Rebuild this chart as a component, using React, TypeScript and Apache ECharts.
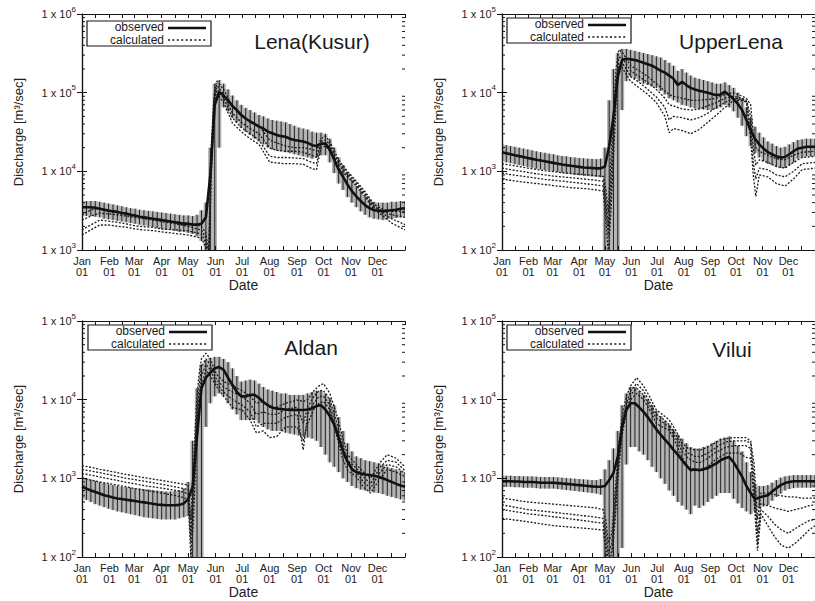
import React, { useEffect, useRef } from 'react';
import * as echarts from 'echarts';

const FONT = '"Liberation Sans", Arial, Helvetica, sans-serif';

// ---------- shared axes ----------
const monthNames = ['Jan', 'Feb', 'Mar', 'Apr', 'May', 'Jun', 'Jul', 'Aug', 'Sep', 'Oct', 'Nov', 'Dec'];
const monthStarts = [0, 31, 59, 90, 120, 151, 181, 212, 243, 273, 304, 334];
const xTickDays = [0, 15, 31, 45, 59, 74, 90, 105, 120, 135, 151, 166, 181, 196, 212, 227, 243, 258, 273, 288, 304, 319, 334, 349, 365];

const obsDays = [0, 5, 10, 15, 20, 25, 30, 35, 40, 45, 50, 55, 60, 65, 70, 75, 80, 85, 90, 95, 100, 105, 110, 115, 120, 125, 130, 135, 140, 145, 150, 155, 160, 165, 170, 175, 180, 185, 190, 195, 200, 205, 210, 215, 220, 225, 230, 235, 240, 245, 250, 255, 260, 265, 270, 275, 280, 285, 290, 295, 300, 305, 310, 315, 320, 325, 330, 335, 340, 345, 350, 355, 360, 365];

const minorTicks3to6 = [2000, 3000, 4000, 5000, 6000, 7000, 8000, 9000, 20000, 30000, 40000, 50000, 60000, 70000, 80000, 90000, 200000, 300000, 400000, 500000, 600000, 700000, 800000, 900000];
const minorTicks2to5 = [200, 300, 400, 500, 600, 700, 800, 900, 2000, 3000, 4000, 5000, 6000, 7000, 8000, 9000, 20000, 30000, 40000, 50000, 60000, 70000, 80000, 90000];

// ---------- Lena(Kusur) ----------
const lenaObs = [3500, 3500, 3500, 3450, 3350, 3250, 3150, 3100, 3050, 2950, 2900, 2800, 2750, 2650, 2600, 2550, 2500, 2450, 2400, 2350, 2300, 2250, 2200, 2150, 2150, 2100, 2100, 2150, 2600, 9000, 70000, 102000, 92000, 80000, 68000, 60000, 52000, 47000, 43000, 40000, 37000, 35000, 32000, 30500, 29000, 28000, 27500, 26000, 25000, 24500, 24000, 23000, 21500, 21000, 22500, 22500, 19000, 14000, 10500, 8500, 6800, 5600, 4800, 4200, 3700, 3400, 3200, 3150, 3100, 3150, 3200, 3250, 3350, 3400];
const lenaLo = [2700, 2700, 2700, 2650, 2600, 2500, 2450, 2400, 2350, 2300, 2250, 2200, 2150, 2100, 2050, 2000, 1950, 1900, 1850, 1800, 1800, 1750, 1700, 1700, 1650, 1600, 1500, 1300, 500, 500, 500, 20000, 65000, 58000, 48000, 42000, 36000, 32000, 29000, 26000, 24000, 22000, 20000, 19000, 18500, 18000, 17500, 17000, 16500, 16000, 15500, 15000, 14500, 15000, 16000, 16000, 13000, 9500, 7000, 5800, 4700, 4000, 3500, 3100, 2800, 2600, 2500, 2450, 2400, 2450, 2500, 2550, 2600, 2650];
const lenaHi = [4200, 4200, 4200, 4200, 4100, 4000, 3900, 3800, 3700, 3600, 3500, 3400, 3350, 3250, 3200, 3150, 3100, 3050, 3000, 2950, 2900, 2850, 2800, 2750, 2750, 2700, 2800, 3200, 4000, 20000, 130000, 145000, 130000, 110000, 92000, 80000, 70000, 64000, 60000, 56000, 52000, 50000, 47000, 45000, 44000, 43000, 42000, 40000, 38000, 36000, 35000, 34000, 32000, 31000, 31000, 30000, 26000, 20000, 15000, 12000, 9500, 7800, 6500, 5600, 4800, 4400, 4100, 4000, 4000, 4000, 4100, 4100, 4200, 4200];
const lenaCalcDays = [0, 10, 20, 30, 40, 50, 60, 70, 80, 90, 100, 110, 120, 130, 135, 140, 143, 146, 149, 152, 155, 160, 170, 180, 190, 200, 212, 220, 230, 240, 250, 260, 265, 270, 275, 280, 290, 300, 310, 320, 330, 340, 350, 365];
const lenaCalcA = [2800, 3230, 3400, 3230, 3050, 2900, 2700, 2600, 2500, 2400, 2300, 2250, 2200, 2080, 2000, 1650, 900, 20000, 90000, 140000, 130000, 110000, 66000, 50000, 43000, 38000, 25000, 23000, 21000, 20000, 20000, 19000, 18000, 26000, 28000, 24000, 14000, 10000, 7500, 5500, 3800, 3300, 3100, 3100];
const lenaCalcB = [2400, 2700, 2950, 2870, 2800, 2700, 2600, 2500, 2400, 2300, 2200, 2100, 2000, 1850, 1800, 1420, 700, 15000, 80000, 125000, 115000, 95000, 55000, 42000, 35000, 30000, 19800, 18500, 18000, 18000, 17500, 16000, 15000, 24000, 25000, 22000, 13000, 9500, 7200, 5200, 3600, 3100, 2800, 2600];
const lenaCalcC = [1800, 2080, 2400, 2330, 2250, 2150, 2020, 1980, 1940, 1850, 1820, 1790, 1750, 1650, 1600, 1230, 500, 10000, 70000, 115000, 100000, 85000, 48000, 36000, 30000, 25000, 15600, 15000, 15000, 14800, 14500, 13000, 12500, 22000, 23000, 20000, 12000, 9000, 6800, 5000, 3500, 2900, 2500, 2100];
const lenaCalcD = [1550, 1800, 2080, 2080, 2000, 1950, 1850, 1800, 1760, 1700, 1650, 1600, 1550, 1460, 1420, 1060, 400, 8000, 60000, 105000, 90000, 75000, 41000, 32000, 26000, 22000, 13100, 12800, 12500, 12500, 12300, 10800, 10500, 20000, 21000, 18000, 11000, 8500, 6500, 4700, 3300, 2700, 2200, 1800];

// ---------- UpperLena ----------
const upperObs = [1750, 1700, 1650, 1600, 1560, 1520, 1480, 1440, 1400, 1370, 1340, 1310, 1280, 1250, 1220, 1200, 1180, 1160, 1140, 1120, 1110, 1100, 1090, 1090, 1150, 2100, 5000, 16000, 26000, 27000, 26500, 26000, 25000, 24000, 23000, 22000, 20500, 19000, 18000, 16500, 15000, 12500, 13700, 12500, 11500, 11000, 10600, 10300, 10000, 9600, 9300, 9500, 10300, 9300, 8300, 7200, 6000, 4500, 3300, 2600, 2200, 1950, 1750, 1650, 1550, 1500, 1520, 1650, 1800, 1950, 2000, 2050, 2050, 2050];
const upperLo = [1350, 1300, 1270, 1230, 1200, 1170, 1140, 1110, 1080, 1060, 1040, 1020, 1000, 980, 960, 940, 920, 900, 890, 880, 870, 860, 850, 840, 60, 60, 60, 60, 6000, 14000, 16000, 15000, 14000, 13000, 12500, 12000, 11500, 10500, 9500, 8500, 8000, 7500, 7000, 6800, 6500, 6300, 6200, 6100, 6000, 6000, 6200, 6500, 7000, 6500, 5800, 4800, 3800, 2800, 2100, 1700, 1500, 1350, 1250, 1200, 1150, 1100, 1100, 1200, 1300, 1450, 1500, 1550, 1550, 1550];
const upperHi = [2200, 2150, 2100, 2050, 2000, 1950, 1900, 1850, 1800, 1750, 1720, 1680, 1650, 1600, 1570, 1550, 1520, 1500, 1480, 1460, 1450, 1440, 1430, 1450, 2000, 8000, 20000, 32000, 36000, 36000, 35000, 34000, 33000, 32000, 31000, 30000, 29000, 28000, 26000, 24000, 22000, 19000, 20000, 18000, 16500, 15500, 15000, 14500, 14000, 13500, 13000, 13000, 13500, 12500, 11500, 10000, 8500, 6500, 4800, 3700, 3100, 2700, 2400, 2250, 2100, 2000, 2050, 2200, 2350, 2500, 2550, 2600, 2600, 2600];
const upperCalcDays = [0, 10, 20, 30, 40, 50, 60, 70, 80, 90, 100, 110, 118, 121, 124, 127, 130, 133, 136, 140, 145, 150, 160, 170, 180, 190, 195, 200, 210, 220, 230, 240, 250, 260, 270, 280, 285, 290, 293, 296, 300, 310, 320, 330, 340, 350, 365];
const upperCalcA = [1250, 1200, 1150, 1100, 1060, 1020, 990, 960, 940, 920, 900, 880, 860, 600, 300, 1500, 6000, 20000, 35000, 33000, 27000, 22000, 19000, 16000, 13000, 10500, 9500, 9000, 8500, 8000, 8000, 8200, 8500, 9500, 10000, 9000, 8500, 7000, 3000, 2000, 1800, 1600, 1450, 1400, 1600, 1750, 1800];
const upperCalcB = [1100, 1050, 1010, 970, 930, 900, 870, 850, 830, 810, 790, 770, 750, 450, 200, 800, 3500, 14000, 28000, 28000, 23000, 19000, 16000, 13500, 11000, 8500, 7000, 6800, 6200, 6000, 6200, 6800, 7500, 8500, 9000, 8500, 8000, 5000, 2000, 1200, 1400, 1300, 1150, 1100, 1300, 1500, 1550];
const upperCalcC = [950, 910, 880, 850, 820, 790, 770, 750, 730, 710, 690, 670, 650, 350, 150, 500, 2500, 10000, 24000, 24000, 20000, 16000, 13500, 11000, 8800, 6500, 4500, 5000, 4800, 4500, 4800, 5500, 6500, 7500, 8500, 8200, 7800, 3500, 1300, 800, 1100, 1050, 900, 850, 1000, 1250, 1300];
const upperCalcD = [800, 770, 740, 720, 700, 680, 660, 640, 620, 610, 600, 580, 560, 250, 90, 300, 1500, 7000, 20000, 21000, 17000, 14000, 11500, 9500, 7500, 5000, 3100, 3500, 3300, 3000, 3400, 4200, 5200, 6500, 8000, 8000, 7500, 2500, 900, 480, 900, 850, 700, 650, 800, 1050, 1100];

// ---------- Aldan ----------
const aldanObs = [780, 740, 700, 670, 640, 610, 590, 570, 555, 545, 535, 525, 515, 505, 495, 485, 475, 465, 460, 455, 455, 455, 460, 480, 540, 780, 3500, 14000, 19000, 22000, 25000, 26000, 24000, 19000, 15500, 12500, 11000, 11000, 11500, 11500, 10500, 9300, 8500, 7900, 7700, 7600, 7500, 7400, 7400, 7400, 7400, 7500, 7800, 8300, 8500, 7500, 6200, 4800, 3300, 2200, 1650, 1300, 1200, 1150, 1120, 1100, 1080, 1050, 1000, 950, 900, 850, 810, 780];
const aldanLo = [560, 530, 500, 470, 450, 430, 410, 395, 380, 370, 360, 350, 340, 330, 320, 315, 310, 305, 300, 300, 300, 300, 310, 320, 330, 60, 60, 60, 4500, 9000, 11000, 12000, 11000, 9000, 7500, 6500, 5500, 5500, 5500, 5500, 5000, 4500, 4200, 4000, 4000, 4000, 3800, 3700, 3600, 3500, 3400, 3300, 3200, 3000, 2500, 2000, 1600, 1400, 1200, 1000, 900, 800, 750, 720, 700, 680, 660, 650, 630, 600, 580, 560, 540, 520];
const aldanHi = [1050, 1000, 960, 930, 900, 870, 840, 820, 800, 780, 770, 760, 750, 740, 730, 720, 710, 700, 690, 680, 680, 690, 700, 740, 900, 3000, 14000, 28000, 32000, 34000, 35000, 35000, 33000, 30000, 25000, 20000, 17000, 17500, 18000, 17500, 16000, 14500, 13500, 13000, 12500, 12000, 12000, 11500, 11500, 11500, 11500, 12000, 12500, 13000, 13000, 12000, 10500, 8500, 6000, 4000, 2800, 2200, 1900, 1800, 1700, 1650, 1600, 1550, 1500, 1400, 1350, 1300, 1250, 1200];
const aldanCalcDays = [0, 10, 20, 30, 40, 50, 60, 70, 80, 90, 100, 110, 120, 123, 126, 129, 132, 135, 140, 145, 152, 160, 170, 181, 190, 197, 205, 212, 220, 230, 243, 250, 255, 262, 268, 273, 280, 287, 294, 300, 310, 318, 326, 337, 345, 355, 365];
const aldanCalcA = [1450, 1380, 1300, 1240, 1180, 1120, 1070, 1020, 980, 940, 900, 860, 820, 300, 1500, 8000, 20000, 33000, 39000, 33000, 21000, 17000, 15000, 13000, 11000, 9000, 9500, 8000, 8000, 9000, 9900, 9500, 10000, 13000, 15000, 16000, 12000, 7000, 3500, 2000, 1500, 1200, 1000, 1600, 2000, 1800, 1400];
const aldanCalcB = [1300, 1240, 1180, 1120, 1060, 1000, 960, 920, 880, 840, 800, 760, 720, 200, 800, 5000, 14000, 26000, 33000, 28000, 18000, 14500, 12500, 11000, 9000, 6500, 7000, 6500, 6500, 7500, 8000, 5000, 8000, 11000, 13000, 13000, 10000, 5500, 2800, 1700, 1350, 1050, 850, 1400, 1700, 1600, 1250];
const aldanCalcC = [1150, 1100, 1040, 990, 940, 890, 850, 810, 780, 750, 720, 690, 640, 150, 500, 3500, 10000, 20000, 28000, 24000, 16000, 12500, 10000, 8500, 7000, 4500, 5000, 5000, 5000, 6000, 6500, 2300, 6500, 9000, 11000, 11000, 8500, 4500, 2300, 1500, 1200, 900, 750, 1200, 1500, 1400, 1150];
const aldanCalcD = [1000, 950, 900, 860, 820, 780, 740, 710, 680, 650, 620, 590, 540, 100, 300, 2000, 7000, 15000, 24000, 20000, 14700, 11000, 8000, 7400, 5500, 3800, 4000, 3300, 3400, 4500, 4500, 3000, 5000, 7500, 9000, 9500, 7500, 3800, 1850, 1270, 1050, 780, 650, 1000, 1300, 1200, 1050];

// ---------- Vilui ----------
const viluiObs = [920, 920, 920, 910, 910, 900, 900, 900, 890, 880, 880, 880, 880, 870, 860, 850, 840, 830, 820, 810, 800, 790, 780, 780, 800, 950, 1170, 1870, 4500, 7400, 9000, 9000, 8000, 7000, 6000, 5000, 4200, 3600, 3100, 2700, 2300, 2000, 1700, 1450, 1270, 1300, 1270, 1300, 1350, 1450, 1550, 1700, 1800, 1870, 1600, 1300, 1050, 800, 650, 540, 570, 590, 610, 680, 750, 820, 870, 900, 920, 920, 920, 920, 920, 920];
const viluiLo = [780, 780, 780, 770, 770, 760, 760, 760, 750, 740, 740, 740, 740, 730, 720, 710, 700, 690, 680, 670, 660, 650, 640, 620, 100, 60, 60, 60, 130, 1500, 2500, 2500, 2200, 2000, 1700, 1400, 1200, 1000, 850, 700, 600, 500, 450, 400, 350, 450, 420, 450, 500, 550, 600, 650, 650, 650, 550, 480, 420, 380, 350, 380, 420, 440, 460, 520, 580, 640, 700, 730, 750, 760, 760, 760, 760, 760];
const viluiHi = [1080, 1080, 1080, 1070, 1070, 1060, 1060, 1060, 1050, 1040, 1040, 1040, 1040, 1030, 1020, 1010, 1000, 990, 980, 970, 960, 950, 950, 980, 1300, 1700, 2400, 4000, 8500, 12000, 14500, 14500, 13000, 11500, 10000, 8500, 7200, 6200, 5400, 4800, 4200, 3600, 3200, 2800, 2500, 2400, 2400, 2500, 2600, 2800, 3000, 3200, 3300, 3400, 3000, 2600, 2200, 1600, 1200, 850, 800, 800, 820, 880, 950, 1020, 1060, 1080, 1100, 1100, 1100, 1100, 1100, 1100];
const viluiCalcDays = [0, 10, 20, 30, 40, 50, 60, 70, 80, 90, 100, 110, 118, 121, 124, 128, 132, 136, 140, 145, 150, 157, 165, 172, 180, 187, 195, 202, 210, 217, 225, 232, 240, 248, 255, 262, 270, 277, 284, 290, 294, 298, 302, 310, 318, 326, 334, 342, 350, 358, 365];
const viluiCalcA = [560, 540, 520, 500, 490, 480, 470, 460, 450, 440, 430, 420, 400, 300, 150, 200, 700, 2500, 6000, 11000, 15000, 19000, 15000, 11000, 7400, 6500, 5500, 4200, 2800, 2400, 2300, 2300, 2500, 2800, 3100, 3200, 3300, 3300, 3300, 3000, 1500, 300, 650, 650, 620, 600, 580, 580, 560, 560, 560];
const viluiCalcB = [460, 440, 420, 400, 390, 380, 370, 360, 350, 340, 330, 320, 310, 220, 110, 150, 500, 2000, 5000, 9000, 13000, 16000, 13000, 9500, 6500, 5800, 4800, 3700, 2500, 2100, 1900, 1900, 2100, 2400, 2700, 2900, 3000, 3000, 3000, 2800, 1000, 200, 480, 450, 420, 400, 380, 400, 420, 450, 460];
const viluiCalcC = [400, 385, 370, 355, 345, 335, 325, 315, 305, 295, 285, 275, 270, 160, 90, 120, 400, 1600, 4200, 8000, 11500, 14000, 11500, 8500, 5800, 5200, 4500, 3300, 2200, 1800, 1600, 1600, 1800, 2100, 2300, 2500, 2600, 2600, 2600, 2400, 700, 150, 400, 330, 260, 220, 200, 230, 260, 290, 300];
const viluiCalcD = [310, 300, 290, 280, 270, 260, 250, 245, 240, 235, 230, 225, 220, 120, 70, 100, 300, 1300, 3500, 7000, 10000, 12000, 10000, 7500, 5000, 4500, 4100, 2900, 1850, 1400, 1270, 1300, 1400, 1700, 1900, 2100, 2100, 2100, 1850, 1800, 500, 120, 350, 250, 180, 140, 130, 150, 180, 220, 250];

// ---------- panel layout ----------
const panels = [
  { title: 'Lena(Kusur)', left: 82, top: 14, width: 323, yMin: 1e3, yMax: 1e6, obs: lenaObs, lo: lenaLo, hi: lenaHi, calcDays: lenaCalcDays, calc: [lenaCalcA, lenaCalcB, lenaCalcC, lenaCalcD], minor: minorTicks3to6, tx: 312, ty: 41, lx: 87, ly: 21 },
  { title: 'UpperLena', left: 502, top: 14, width: 325, yMin: 1e2, yMax: 1e5, obs: upperObs, lo: upperLo, hi: upperHi, calcDays: upperCalcDays, calc: [upperCalcA, upperCalcB, upperCalcC, upperCalcD], minor: minorTicks2to5, tx: 731, ty: 41, lx: 507, ly: 18 },
  { title: 'Aldan', left: 82, top: 321, width: 323, yMin: 1e2, yMax: 1e5, obs: aldanObs, lo: aldanLo, hi: aldanHi, calcDays: aldanCalcDays, calc: [aldanCalcA, aldanCalcB, aldanCalcC, aldanCalcD], minor: minorTicks2to5, tx: 311, ty: 347, lx: 88, ly: 325 },
  { title: 'Vilui', left: 502, top: 321, width: 325, yMin: 1e2, yMax: 1e5, obs: viluiObs, lo: viluiLo, hi: viluiHi, calcDays: viluiCalcDays, calc: [viluiCalcA, viluiCalcB, viluiCalcC, viluiCalcD], minor: minorTicks2to5, tx: 732, ty: 349, lx: 507, ly: 325 },
];

const INK = '#151515';
const axisLine = { show: true, lineStyle: { color: INK, width: 1.2 } };

function buildOption(): any {
  const grid = panels.map((p) => ({ left: p.left, top: p.top, width: p.width, height: 236 }));
  const xAxis: any[] = [];
  const yAxis: any[] = [];
  panels.forEach((p, i) => {
    xAxis.push({
      gridIndex: i, type: 'value', min: 0, max: 365, position: 'bottom',
      axisLine, splitLine: { show: false },
      axisTick: { inside: true, length: 4, customValues: xTickDays, lineStyle: { color: INK } },
      axisLabel: {
        customValues: monthStarts, margin: 5, fontSize: 11, lineHeight: 11, color: '#222', fontFamily: FONT,
        formatter: (v: number) => { const k = monthStarts.indexOf(Math.round(v)); return k >= 0 ? monthNames[k] + '\n01' : ''; },
      },
      name: 'Date', nameLocation: 'middle', nameGap: 26,
      nameTextStyle: { fontSize: 14, color: '#222', fontFamily: FONT },
    });
  });
  panels.forEach((p, i) => {
    xAxis.push({
      gridIndex: i, type: 'value', min: 0, max: 365, position: 'top',
      axisLine, splitLine: { show: false },
      axisTick: { inside: true, length: 4, customValues: xTickDays, lineStyle: { color: INK } },
      axisLabel: { show: false },
    });
  });
  panels.forEach((p, i) => {
    yAxis.push({
      gridIndex: i, type: 'log', logBase: 10, min: p.yMin, max: p.yMax, position: 'left',
      axisLine, splitLine: { show: false }, minorTick: { show: false },
      axisTick: { inside: true, length: 5, lineStyle: { color: INK } },
      axisLabel: {
        margin: 6, color: '#222', fontFamily: FONT,
        formatter: (v: number) => `{b|1 x 10}{s|${Math.round(Math.log10(v))}}`,
        rich: {
          b: { fontSize: 11, lineHeight: 18, color: '#222', fontFamily: FONT },
          s: { fontSize: 8, lineHeight: 8, color: '#222', fontFamily: FONT, verticalAlign: 'top' },
        },
      },
      name: 'Discharge [m³/sec]', nameLocation: 'middle', nameGap: 57,
      nameTextStyle: { fontSize: 13, color: '#222', fontFamily: FONT },
    });
  });
  panels.forEach((p, i) => {
    yAxis.push({
      gridIndex: i, type: 'log', logBase: 10, min: p.yMin, max: p.yMax, position: 'right',
      axisLine, splitLine: { show: false },
      axisTick: { inside: true, length: 5, lineStyle: { color: INK } },
      axisLabel: { show: false },
    });
  });

  const series: any[] = [];
  panels.forEach((p, i) => {
    series.push({
      type: 'custom', xAxisIndex: i, yAxisIndex: i, clip: true, silent: true, z: 1,
      data: obsDays.map((d, k) => [d, p.lo[k], p.hi[k]]),
      encode: { x: 0, y: [1, 2] },
      renderItem: (params: any, api: any) => {
        const d = api.value(0);
        const top = api.coord([d, api.value(2)]);
        const bot = api.coord([d, api.value(1)]);
        const half = api.coord([d + 2.5, api.value(1)])[0] - bot[0];
        return {
          type: 'group',
          children: [
            { type: 'rect', shape: { x: bot[0] - half, y: top[1], width: half * 2, height: bot[1] - top[1] }, style: { fill: 'rgba(0,0,0,0.3)' } },
            { type: 'line', shape: { x1: bot[0], y1: top[1], x2: bot[0], y2: bot[1] }, style: { stroke: '#222', lineWidth: 1 } },
          ],
        };
      },
    });
    series.push({
      type: 'custom', xAxisIndex: i, yAxisIndex: i, silent: true, z: 6,
      data: p.minor.map((v) => [0, v]),
      encode: { x: 0, y: 1 },
      renderItem: (params: any, api: any) => {
        const v = api.value(1);
        const a = api.coord([0, v]);
        const b = api.coord([365, v]);
        return {
          type: 'group',
          children: [
            { type: 'line', shape: { x1: a[0], y1: a[1], x2: a[0] + 3, y2: a[1] }, style: { stroke: INK, lineWidth: 1 } },
            { type: 'line', shape: { x1: b[0] - 3, y1: b[1], x2: b[0], y2: b[1] }, style: { stroke: INK, lineWidth: 1 } },
          ],
        };
      },
    });
    p.calc.forEach((line) => {
      series.push({
        type: 'line', name: 'calculated', xAxisIndex: i, yAxisIndex: i, z: 3,
        symbol: 'none', silent: true,
        data: p.calcDays.map((d, k) => [d, line[k]]),
        lineStyle: { color: '#1c1c1c', width: 1.3, type: [2, 1.6] },
      });
    });
    series.push({
      type: 'line', name: 'observed', xAxisIndex: i, yAxisIndex: i, z: 4,
      symbol: 'none', silent: true,
      data: obsDays.map((d, k) => [d, p.obs[k]]),
      lineStyle: { color: '#111', width: 2.6 },
    });
  });

  const graphic: any[] = [];
  panels.forEach((p) => {
    graphic.push({ type: 'text', x: p.tx, y: p.ty, z: 20, style: { text: p.title, fontSize: 21, fontFamily: FONT, fill: '#1a1a1a', align: 'center', verticalAlign: 'middle' } });
    graphic.push({ type: 'rect', z: 20, shape: { x: p.lx, y: p.ly, width: 124, height: 25 }, style: { fill: '#fff', stroke: INK, lineWidth: 1.2 } });
    graphic.push({ type: 'text', x: p.lx + 77, y: p.ly + 6.4, z: 21, style: { text: 'observed', fontSize: 12, fontFamily: FONT, fill: '#1a1a1a', align: 'right', verticalAlign: 'middle' } });
    graphic.push({ type: 'text', x: p.lx + 77, y: p.ly + 18.8, z: 21, style: { text: 'calculated', fontSize: 12, fontFamily: FONT, fill: '#1a1a1a', align: 'right', verticalAlign: 'middle' } });
    graphic.push({ type: 'line', z: 21, shape: { x1: p.lx + 81, y1: p.ly + 7, x2: p.lx + 119, y2: p.ly + 7 }, style: { stroke: '#111', lineWidth: 2.6 } });
    graphic.push({ type: 'line', z: 21, shape: { x1: p.lx + 81, y1: p.ly + 19, x2: p.lx + 119, y2: p.ly + 19 }, style: { stroke: '#111', lineWidth: 1.6, lineDash: [2, 2.4] } });
  });

  return { animation: false, backgroundColor: '#fff', grid, xAxis, yAxis, series, graphic };
}

export default function App() {
  const ref = useRef<HTMLDivElement>(null);
  useEffect(() => {
    if (!ref.current) return;
    const chart = echarts.init(ref.current, undefined, { renderer: 'svg' });
    chart.setOption(buildOption());
    return () => chart.dispose();
  }, []);
  return <div ref={ref} style={{ position: 'absolute', left: 0, top: 0, width: 815, height: 601, background: '#fff' }} />;
}
